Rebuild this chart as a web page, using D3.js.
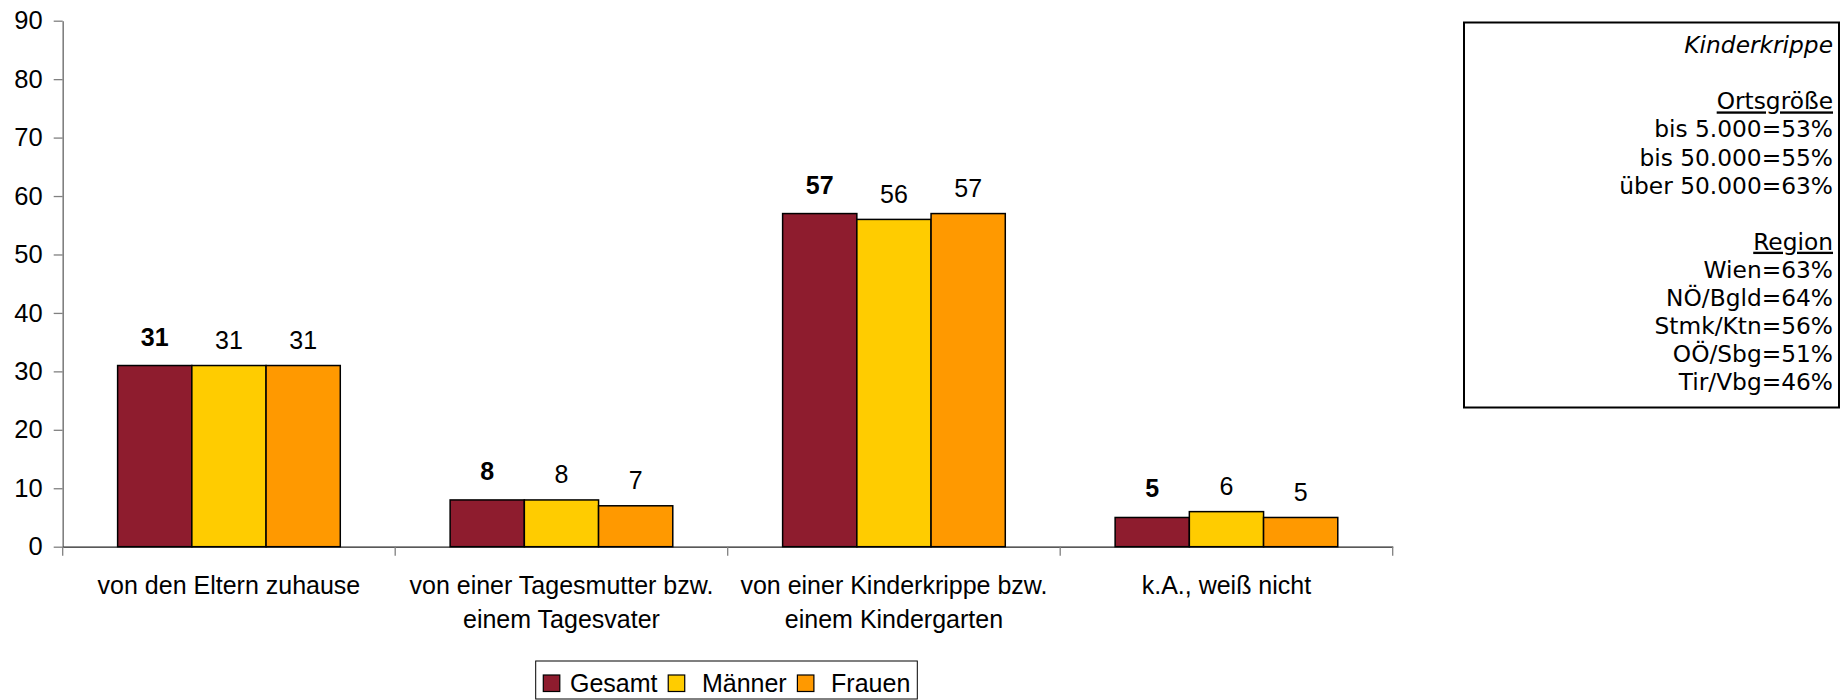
<!DOCTYPE html>
<html>
<head>
<meta charset="utf-8">
<script src="https://cdn.jsdelivr.net/npm/d3@7"></script>
<style>
  html, body { margin: 0; padding: 0; background: #fff; }
  svg { display: block; }
</style>
</head>
<body>
<svg id="chart" width="1840" height="700"></svg>
<script>
// ---- data ----
const categories = [
  "von den Eltern zuhause",
  "von einer Tagesmutter bzw. einem Tagesvater",
  "von einer Kinderkrippe bzw. einem Kindergarten",
  "k.A., weiß nicht"
];
const categoryLines = [
  ["von den Eltern zuhause"],
  ["von einer Tagesmutter bzw.", "einem Tagesvater"],
  ["von einer Kinderkrippe bzw.", "einem Kindergarten"],
  ["k.A., weiß nicht"]
];
const seriesNames = ["Gesamt", "Männer", "Frauen"];
const gesamt  = [31, 8, 57, 5];
const maenner = [31, 8, 56, 6];
const frauen  = [31, 7, 57, 5];
const seriesValues = [gesamt, maenner, frauen];
const yTicks = [0, 10, 20, 30, 40, 50, 60, 70, 80, 90];
const infoLines = [
  {t: "Kinderkrippe", s: "italic"},
  {t: "", s: ""},
  {t: "Ortsgröße", s: "underline"},
  {t: "bis 5.000=53%", s: ""},
  {t: "bis 50.000=55%", s: ""},
  {t: "über 50.000=63%", s: ""},
  {t: "", s: ""},
  {t: "Region", s: "underline"},
  {t: "Wien=63%", s: ""},
  {t: "NÖ/Bgld=64%", s: ""},
  {t: "Stmk/Ktn=56%", s: ""},
  {t: "OÖ/Sbg=51%", s: ""},
  {t: "Tir/Vbg=46%", s: ""}
];

// ---- styles ----
const colors = {"Gesamt": "#8E1C2E", "Männer": "#FFCC00", "Frauen": "#FF9900"};
const FONT = "'Liberation Sans', Arial, sans-serif";

const svg = d3.select("#chart");

const x0 = d3.scaleBand().domain(categories).range([62.7, 1392.7]).padding(0);
const x1 = d3.scaleBand().domain(seriesNames).range([0, x0.bandwidth()])
  .paddingInner(0).paddingOuter(0.74);
const y = d3.scaleLinear().domain([0, 90]).range([546.7, 20.7]);

// y axis
const yAxis = svg.append("g")
  .attr("transform", "translate(62.7,0)")
  .call(d3.axisLeft(y).tickValues(yTicks).tickSize(9).tickPadding(11).tickSizeOuter(0));
yAxis.select(".domain").attr("stroke", "#808080").attr("stroke-width", 1.6);
yAxis.selectAll(".tick line").attr("stroke", "#808080").attr("stroke-width", 1.3);
yAxis.selectAll(".tick text")
  .attr("font-family", FONT).attr("font-size", 25.5).attr("fill", "#000");

// x axis
const xAxis = svg.append("g")
  .attr("transform", "translate(0," + y(0) + ")")
  .call(d3.axisBottom(x0).tickSize(0).tickSizeOuter(0).tickFormat(""));
xAxis.select(".domain").attr("stroke", "#222").attr("stroke-width", 1.3);
const bounds = categories.map(c => x0(c)).concat([x0.range()[1]]);
xAxis.selectAll(".bound").data(bounds).join("line")
  .attr("class", "bound")
  .attr("x1", d => d).attr("x2", d => d)
  .attr("y1", 0).attr("y2", 9)
  .attr("stroke", "#808080").attr("stroke-width", 1.3);

// category labels
categories.forEach((c, i) => {
  const t = svg.append("text")
    .attr("font-family", FONT).attr("font-size", 25).attr("fill", "#000")
    .attr("text-anchor", "middle");
  categoryLines[i].forEach((line, j) => {
    t.append("tspan")
      .attr("x", x0(c) + x0.bandwidth() / 2)
      .attr("y", 594.3 + j * 34)
      .text(line);
  });
});

// bars
const groups = svg.append("g").selectAll("g").data(categories).join("g")
  .attr("transform", c => "translate(" + x0(c) + ",0)");
groups.selectAll("rect")
  .data((c, i) => seriesNames.map((s, k) => ({s, v: seriesValues[k][i]})))
  .join("rect")
  .attr("x", d => x1(d.s))
  .attr("y", d => y(d.v))
  .attr("width", x1.bandwidth())
  .attr("height", d => y(0) - y(d.v))
  .attr("fill", d => colors[d.s])
  .attr("stroke", "#000").attr("stroke-width", 1.5);
groups.selectAll("text.val")
  .data((c, i) => seriesNames.map((s, k) => ({s, v: seriesValues[k][i], bold: k === 0})))
  .join("text")
  .attr("class", "val")
  .attr("x", d => x1(d.s) + x1.bandwidth() / 2)
  .attr("y", d => y(d.v) - (d.bold ? 20 : 16.5))
  .attr("text-anchor", "middle")
  .attr("font-family", FONT).attr("font-size", 25)
  .attr("font-weight", d => d.bold ? "bold" : "normal")
  .attr("fill", "#000")
  .text(d => d.v);

// legend
const lg = svg.append("g");
lg.append("rect")
  .attr("x", 535.7).attr("y", 661).attr("width", 381.6).attr("height", 38)
  .attr("fill", "#fff").attr("stroke", "#000").attr("stroke-width", 1);
let cx = 543.3;
const textGaps = [10, 17, 17];
seriesNames.forEach((s, k) => {
  lg.append("rect")
    .attr("x", cx).attr("y", 675).attr("width", 16.5).attr("height", 16.5)
    .attr("fill", colors[s]).attr("stroke", "#000").attr("stroke-width", 1.2);
  const tx = cx + 16.7 + textGaps[k];
  const t = lg.append("text")
    .attr("x", tx).attr("y", 691.7)
    .attr("font-family", FONT).attr("font-size", 25).attr("fill", "#000")
    .text(s);
  cx = tx + t.node().getComputedTextLength() + 10.7;
});

// info box
const ib = svg.append("g");
ib.append("rect")
  .attr("x", 1464).attr("y", 22.5).attr("width", 375).attr("height", 385)
  .attr("fill", "#fff").attr("stroke", "#000").attr("stroke-width", 2);
infoLines.forEach((l, i) => {
  if (!l.t) return;
  ib.append("text")
    .attr("x", 1833).attr("y", 53.3 + i * 28.06)
    .attr("text-anchor", "end")
    .attr("font-family", "'DejaVu Sans', Verdana, sans-serif")
    .attr("font-size", 23.3)
    .attr("font-style", l.s === "italic" ? "italic" : "normal")
    .attr("text-decoration", l.s === "underline" ? "underline" : "none")
    .attr("fill", "#000")
    .text(l.t);
});
</script>
</body>
</html>
